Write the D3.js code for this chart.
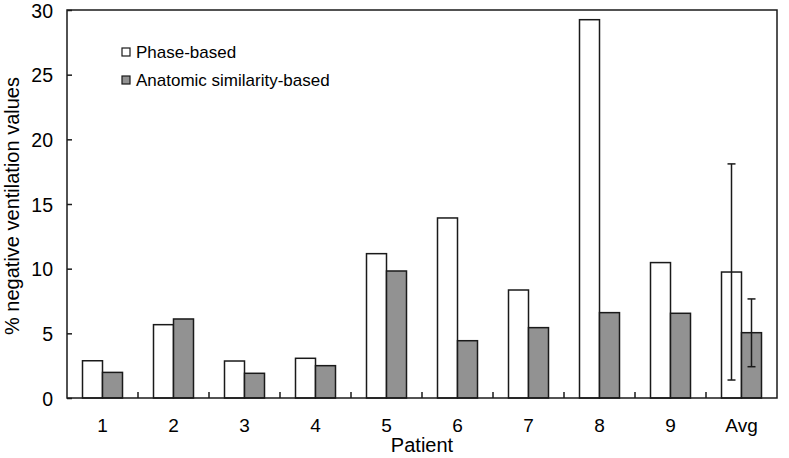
<!DOCTYPE html>
<html><head><meta charset="utf-8">
<script src="https://cdn.jsdelivr.net/npm/d3@7"></script>
<style>body{margin:0;background:#fff}svg{display:block}text{font-family:"Liberation Sans",Arial,sans-serif;fill:#000}</style>
</head><body>
<svg id="c" width="789" height="458"></svg>
<script>
const categories = ["1","2","3","4","5","6","7","8","9","Avg"];
const phaseBased = [2.88, 5.67, 2.86, 3.07, 11.16, 13.92, 8.35, 29.25, 10.47, 9.74];
const anatomicBased = [1.98, 6.11, 1.91, 2.5, 9.82, 4.43, 5.44, 6.6, 6.55, 5.05];
const errPhase = {lo: 1.39, hi: 18.1};
const errAnat = {lo: 2.42, hi: 7.66};
const yTicks = [0,5,10,15,20,25,30];
const seriesNames = ["Phase-based","Anatomic similarity-based"];
const seriesColors = ["#ffffff","#929292"];

const svg = d3.select("#c");
const L=67, R=777, T=10, B=398;
const x = d3.scaleBand().domain(categories).range([L,R]).padding(0);
const y = d3.scaleLinear().domain([0,30]).range([B,T]);
const barW = 20;

// bars
const series = [phaseBased, anatomicBased];
series.forEach((vals,si)=>{
  svg.append("g").selectAll("rect").data(vals).join("rect")
    .attr("x",(d,i)=>x(categories[i])+x.bandwidth()/2-barW+si*barW)
    .attr("y",d=>y(d)).attr("width",barW).attr("height",d=>B-y(d))
    .attr("fill",seriesColors[si]).attr("stroke","#1a1a1a").attr("stroke-width",1.5);
});

// error bars on Avg
[[errPhase,0],[errAnat,1]].forEach(([e,si])=>{
  const cx = x("Avg")+x.bandwidth()/2-barW/2+si*barW;
  const g = svg.append("g").attr("stroke","#1a1a1a").attr("stroke-width",1.5);
  g.append("line").attr("x1",cx).attr("x2",cx).attr("y1",y(e.lo)).attr("y2",y(e.hi));
  g.append("line").attr("x1",cx-4).attr("x2",cx+4).attr("y1",y(e.lo)).attr("y2",y(e.lo));
  g.append("line").attr("x1",cx-4).attr("x2",cx+4).attr("y1",y(e.hi)).attr("y2",y(e.hi));
});

// frame
svg.append("rect").attr("x",L).attr("y",T).attr("width",R-L).attr("height",B-T)
  .attr("fill","none").attr("stroke","#1a1a1a").attr("stroke-width",1.5);

// y axis
const yAxis = d3.axisLeft(y).tickValues(yTicks).tickSize(-5).tickPadding(14).tickFormat(d3.format("d"));
const ya = svg.append("g").attr("transform",`translate(${L},0)`).call(yAxis);
ya.select(".domain").remove();
ya.selectAll("line").attr("stroke","#1a1a1a").attr("stroke-width",1.5);
ya.selectAll("text").style("font-size","19.5px").attr("dy","0.36em");

// x axis tick marks between categories
const xb = categories.slice(1).map(c=>x(c));
svg.append("g").selectAll("line").data(xb).join("line")
  .attr("x1",d=>d).attr("x2",d=>d).attr("y1",B).attr("y2",B-6)
  .attr("stroke","#1a1a1a").attr("stroke-width",1.5);
const xAxis = d3.axisBottom(x).tickSize(0).tickPadding(0);
const xa = svg.append("g").attr("transform",`translate(0,${B})`).call(xAxis);
xa.select(".domain").remove();
xa.selectAll("text").attr("y",34).attr("dy",null).style("font-size","19px");

// axis titles
svg.append("text").attr("x",(L+R)/2).attr("y",452).attr("text-anchor","middle").style("font-size","20px").text("Patient");
svg.append("text").attr("transform",`translate(19,206) rotate(-90)`).attr("text-anchor","middle").style("font-size","20px").text("% negative ventilation values");

// legend
seriesNames.forEach((n,i)=>{
  const ly = 52 + i*28;
  svg.append("rect").attr("x",122).attr("y",ly-4).attr("width",8).attr("height",8)
    .attr("fill",seriesColors[i]).attr("stroke","#1a1a1a").attr("stroke-width",1.2);
  svg.append("text").attr("x",136).attr("y",ly+6).style("font-size","17px").text(n);
});
</script>
</body></html>
